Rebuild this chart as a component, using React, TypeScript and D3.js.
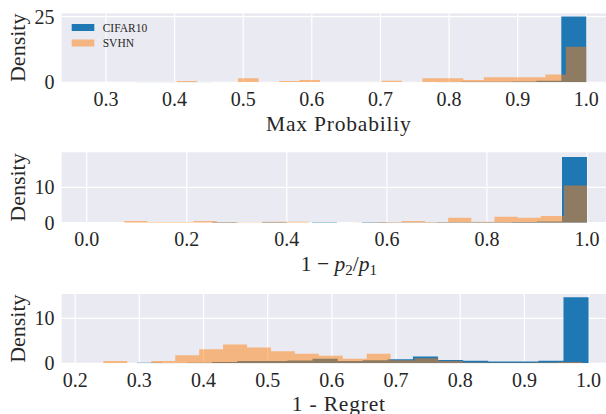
import React from 'react';
import * as d3 from 'd3';

const W = 606;
const H = 414;

// Max probability histograms (20 bins each, density)
const maxProbCifarRange = [0.272, 1.0];
const maxProbCifar = [0, 0, 0.1, 0.1, 0.1, 0.03, 0.05, 0.05, 0.05, 0.05, 0.05, 0.05, 0.05, 0.05, 0.1, 0.2, 0.2, 0.3, 0.6, 25.0];
const maxProbSvhnRange = [0.403, 1.0];
const maxProbSvhn = [0.5, 0, 0.15, 1.5, 0.15, 0.5, 0.9, 0.15, 0.15, 0.15, 0.6, 0.15, 1.5, 1.5, 0.9, 1.9, 1.9, 1.9, 3.0, 13.5];

// 1 - p2/p1
const ratioCifarRange = [0.0, 1.0];
const ratioCifar = [0, 0, 0, 0, 0, 0.1, 0, 0.1, 0, 0.1, 0, 0.1, 0.05, 0.05, 0.1, 0.1, 0.15, 0.2, 0.35, 18.6];
const ratioSvhnRange = [0.075, 1.0];
const ratioSvhn = [0.5, 0.2, 0.2, 0.5, 0.2, 0.15, 0.3, 0.3, 0, 0, 0.05, 0.2, 0.5, 0.2, 1.4, 0.3, 1.7, 1.4, 1.9, 10.5];

// 1 - Regret
const regretCifarRange = [0.218, 1.0];
const regretCifar = [0, 0, 0.1, 0.05, 0.15, 0.3, 0.5, 0.5, 0.6, 1.0, 0.5, 0.7, 0.9, 1.5, 0.75, 0.55, 0.4, 0.4, 0.55, 14.7];
const regretSvhnRange = [0.244, 0.99];
const regretSvhn = [0.5, 0, 0.5, 1.8, 3.1, 4.2, 3.5, 2.7, 2.1, 1.7, 1.0, 2.1, 0.7, 1.1, 0.5, 0.2, 0.1, 0.1, 0.2, 0.3];

const maxProbTicks = [0.3, 0.4, 0.5, 0.6, 0.7, 0.8, 0.9, 1.0];
const ratioTicks = [0.0, 0.2, 0.4, 0.6, 0.8, 1.0];
const regretTicks = [0.2, 0.3, 0.4, 0.5, 0.6, 0.7, 0.8, 0.9, 1.0];

const seriesNames = ['CIFAR10', 'SVHN'];
const BLUE = '#1f77b4';
const ORANGE = '#ff7f0e';
const TEXT = '#262626';
const FONT = "'Liberation Serif', 'DejaVu Serif', serif";
const LEFT = 61.7;

const panels = [
  {
    xDomain: [0.2355, 1.036], xRight: 611, top: 13.3, bottom: 82.3, yMax: 26.25,
    xTicks: maxProbTicks, yTicks: [0, 25], label: 'max',
    cifar: { range: maxProbCifarRange, values: maxProbCifar },
    svhn: { range: maxProbSvhnRange, values: maxProbSvhn },
    legend: true,
  },
  {
    xDomain: [-0.05, 1.05], xRight: 612, top: 152.3, bottom: 222.7, yMax: 19.9,
    xTicks: ratioTicks, yTicks: [0, 10], label: 'ratio',
    cifar: { range: ratioCifarRange, values: ratioCifar },
    svhn: { range: ratioSvhnRange, values: ratioSvhn },
    legend: false,
  },
  {
    xDomain: [0.179, 1.039], xRight: 613.6, top: 294, bottom: 363.3, yMax: 15.4,
    xTicks: regretTicks, yTicks: [0, 10], label: 'regret',
    cifar: { range: regretCifarRange, values: regretCifar },
    svhn: { range: regretSvhnRange, values: regretSvhn },
    legend: false,
  },
];

// histogram outline as one step area, so the translucent fill has no seams
const histPath = (s, x, y) => {
  const n = s.values.length;
  const [lo, hi] = s.range;
  const edges = d3.range(n + 1).map((i) => lo + ((hi - lo) * i) / n);
  const pts = s.values.map((v, i) => ({ e: edges[i], v }));
  pts.push({ e: edges[n], v: s.values[n - 1] });
  const area = d3
    .area()
    .x((d) => x(d.e))
    .y0(y(0))
    .y1((d) => y(d.v))
    .curve(d3.curveStepAfter);
  return area(pts);
};

const XLabel = ({ kind, cx, yb }) => {
  if (kind === 'max') {
    return (
      <text x={cx} y={yb} textAnchor="middle" fontSize={21.5} letterSpacing={0.8}>
        Max Probabiliy
      </text>
    );
  }
  if (kind === 'ratio') {
    return (
      <text x={cx} y={yb} textAnchor="middle" fontSize={21.5}>
        <tspan>1 − </tspan>
        <tspan fontStyle="italic">p</tspan>
        <tspan fontSize={15} dy={4}>2</tspan>
        <tspan dy={-4}>/</tspan>
        <tspan fontStyle="italic">p</tspan>
        <tspan fontSize={15} dy={4}>1</tspan>
      </text>
    );
  }
  return (
    <text x={cx} y={yb - 1.5} textAnchor="middle" fontSize={21.5} letterSpacing={0.8}>
      1 - Regret
    </text>
  );
};

const Panel = ({ p, idx }) => {
  const x = d3.scaleLinear().domain(p.xDomain).range([LEFT, p.xRight]);
  const y = d3.scaleLinear().domain([0, p.yMax]).range([p.bottom, p.top]);
  const fmt = d3.format('.1f');
  const clipId = `clip-${idx}`;
  const midY = (p.top + p.bottom) / 2;
  return (
    <g>
      <defs>
        <clipPath id={clipId}>
          <rect x={LEFT} y={p.top} width={p.xRight - LEFT} height={p.bottom - p.top} />
        </clipPath>
      </defs>
      <rect x={LEFT} y={p.top} width={p.xRight - LEFT} height={p.bottom - p.top} fill="#EAEAF2" />
      <g stroke="#ffffff" strokeWidth={1.2}>
        {p.xTicks.map((t) => (
          <line key={`gx${t}`} x1={x(t)} x2={x(t)} y1={p.top} y2={p.bottom} />
        ))}
        {p.yTicks.map((t) => (
          <line key={`gy${t}`} x1={LEFT} x2={p.xRight} y1={y(t)} y2={y(t)} />
        ))}
      </g>
      <g clipPath={`url(#${clipId})`}>
        <path d={histPath(p.cifar, x, y)} fill={BLUE} />
        <path d={histPath(p.svhn, x, y)} fill={ORANGE} fillOpacity={0.5} />
      </g>
      <g fill={TEXT} style={{ fontFamily: FONT }}>
        {p.xTicks.map((t) => (
          <text key={`tx${t}`} x={x(t)} y={p.bottom + 23.7} textAnchor="middle" fontSize={20}>
            {fmt(t)}
          </text>
        ))}
        {p.yTicks.map((t) => (
          <text key={`ty${t}`} x={54.5} y={y(t)} dy="0.35em" textAnchor="end" fontSize={20}>
            {t}
          </text>
        ))}
        <text
          transform={`translate(25,${midY}) rotate(-90)`}
          textAnchor="middle"
          fontSize={22}
        >
          Density
        </text>
        <XLabel kind={p.label} cx={(LEFT + 606) / 2 + 5} yb={p.bottom + 48.7} />
      </g>
      {p.legend && (
        <g style={{ fontFamily: FONT }} fill={TEXT} fontSize={11.5}>
          {seriesNames.map((name, i) => (
            <g key={name}>
              <rect
                x={71.7}
                y={24 + i * 15.5}
                width={22.6}
                height={7}
                fill={i === 0 ? BLUE : ORANGE}
                fillOpacity={i === 0 ? 1 : 0.5}
              />
              <text x={102.7} y={27.5 + i * 15.5} dy="0.35em">
                {name}
              </text>
            </g>
          ))}
        </g>
      )}
    </g>
  );
};

export default function App() {
  return (
    <svg
      width={W}
      height={H}
      style={{ position: 'absolute', left: 0, top: 0, background: '#ffffff' }}
    >
      {panels.map((p, i) => (
        <Panel key={i} p={p} idx={i} />
      ))}
    </svg>
  );
}
